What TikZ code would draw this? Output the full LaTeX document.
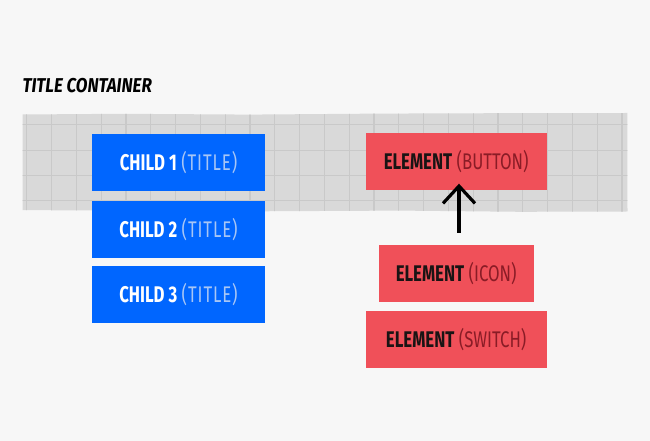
\documentclass[tikz,border=0pt]{standalone}
\usepackage{fontspec}
\usetikzlibrary{arrows.meta}

\newfontfamily\boxfont[FakeStretch=0.74]{Fira Sans}
\newfontfamily\titlefont[FakeStretch=0.85]{Fira Sans}

\definecolor{pagegray}{RGB}{247,247,247}
\definecolor{bandgray}{RGB}{217,217,217}
\definecolor{gridgray}{RGB}{201,201,201}
\definecolor{childblue}{RGB}{0,102,255}
\definecolor{titleblue}{RGB}{168,198,245}
\definecolor{elemred}{RGB}{240,80,89}
\definecolor{elemink}{RGB}{25,20,20}
\definecolor{elemdark}{RGB}{138,28,38}

\tikzset{every picture/.style={line width=0.75pt},
  gridline/.style={draw=gridgray, line width=0.9pt},
  boxtext/.style={inner sep=0pt, font=\boxfont\fontsize{17}{20}\selectfont},
  childbox/.style={boxtext, fill=childblue, text=white, minimum width=129.75pt, minimum height=42.75pt},
  elembox/.style={boxtext, fill=elemred, text=elemink, minimum width=135.75pt, minimum height=42.75pt},
  arrowline/.style={draw=black, line width=2.4pt, -{Straight Barb[length=13pt,width=24pt]}}
}
\newcommand{\childlabel}[1]{{\bfseries CHILD #1}\ \textcolor{titleblue}{\addfontfeature{LetterSpace=4}(TITLE)}}
\newcommand{\elemlabel}[1]{{\bfseries ELEMENT}\ \textcolor{elemdark}{(#1)}}

\begin{document}
\begin{tikzpicture}[x=0.75pt,y=0.75pt,yscale=-1,xscale=1]

%Page
\fill[pagegray] (0,0) rectangle (650,441);
\useasboundingbox (0,0) rectangle (650,441);

%Shape: Band [id:band]
\path[fill=bandgray] (22.7,114.5) -- (120,113.8) -- (250,114.6) -- (380,113.6) -- (500,113.2) -- (627.3,113) -- (627.5,211.5) -- (520,211.8) -- (400,210.6) -- (260,211.3) -- (130,210.4) -- (22.7,210.2) -- cycle;
\begin{scope}
\clip (22.7,114.5) -- (120,113.8) -- (250,114.6) -- (380,113.6) -- (500,113.2) -- (627.3,113) -- (627.5,211.5) -- (520,211.8) -- (400,210.6) -- (260,211.3) -- (130,210.4) -- (22.7,210.2) -- cycle;
\foreach \i in {0,...,24} \draw[gridline] ({26.7+24.8*\i},100) -- ++(0,120);
\foreach \j in {124.3,150.2,175.6,200.7} \draw[gridline] (10,\j) -- ++(630,0);
\end{scope}

% Text Node
\node[anchor=base west, inner sep=0pt, font=\titlefont\bfseries\itshape\fontsize{15}{18}\selectfont] (title) at (22,93) {TITLE CONTAINER};

%Children
\node[childbox] (child1) at (178.5,162.5) {\childlabel{1}};
\node[childbox] (child2) at (178.5,229.5) {\childlabel{2}};
\node[childbox] (child3) at (178.5,294.2) {\childlabel{3}};

%Elements
\node[elembox] (button) at (456.2,161.7) {\elemlabel{BUTTON}};
\node[elembox, minimum width=116.25pt] (icon) at (456.2,273.3) {\elemlabel{ICON}};
\node[elembox] (switch) at (456.2,340) {\elemlabel{SWITCH}};

%Straight Lines
\coordinate (arrowtail) at (459,233);
\draw[arrowline, shorten >=-5.25pt] (arrowtail) -- (arrowtail |- button.south);

\end{tikzpicture}
\end{document}
